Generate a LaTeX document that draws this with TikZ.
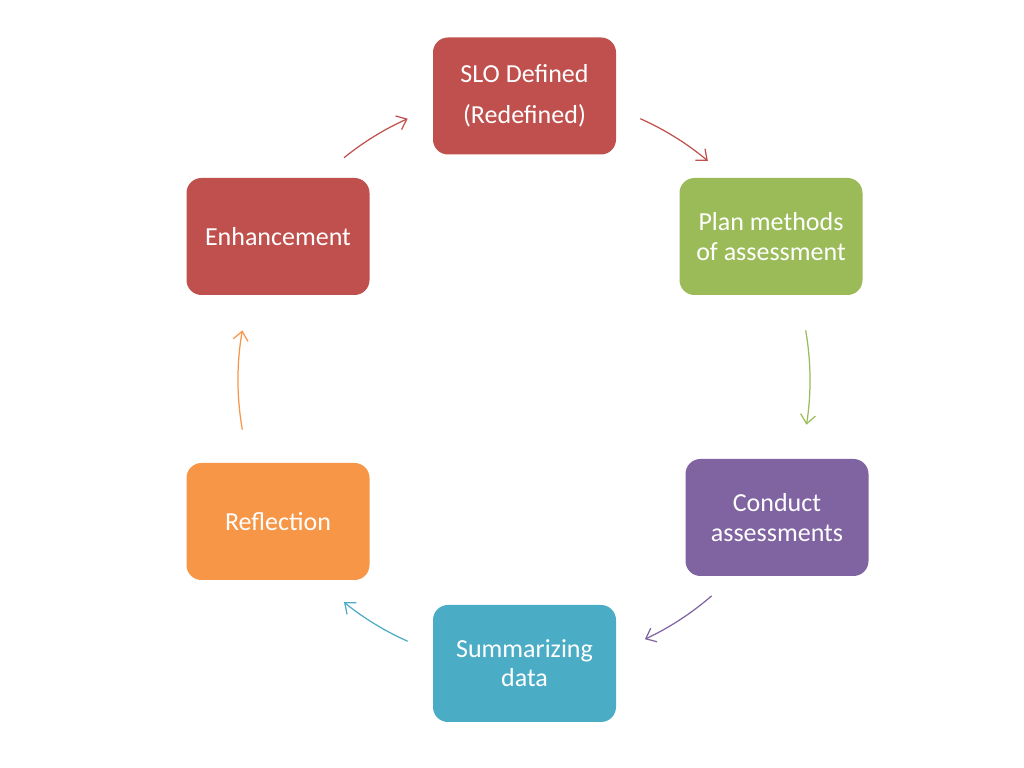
\documentclass[tikz,border=0pt]{standalone}
\usepackage{fontspec}
\setmainfont{Carlito}
\usepackage{tikz}
\usetikzlibrary{arrows.meta,positioning}
\definecolor{SloRed}{HTML}{C0504D}
\definecolor{PlanGreen}{HTML}{9BBB59}
\definecolor{ConductPurple}{HTML}{8064A2}
\definecolor{SummTeal}{HTML}{4BACC6}
\definecolor{ReflOrange}{HTML}{F79646}

\tikzset{
  stagebox/.style={rounded corners=0.15cm,minimum width=1.83cm,minimum height=1.17cm,
    text=white,align=center,inner sep=0pt,font=\fontsize{7.4}{8.3}\selectfont},
  cyclearrow/.style={line width=0.35pt,-{Straight Barb[length=0.9mm,width=1.5mm]}}
}

\begin{document}
\begin{tikzpicture}
  \useasboundingbox[fill=white] (0,0) rectangle (10.24,7.68);
  \coordinate (hub) at (5.24,3.88);
  \node[stagebox,fill=SloRed] (slo) at (5.245,6.72){SLO Defined\\[0.12cm](Redefined)};
  \node[stagebox,fill=PlanGreen] (plan) at (7.71,5.315){Plan methods\\of assessment};
  \node[stagebox,fill=ConductPurple] (cond) at (7.77,2.505){Conduct\\assessments};
  \node[stagebox,fill=SummTeal] (summ) at (5.245,1.045){Summarizing\\data};
  \node[stagebox,fill=ReflOrange] (refl) at (2.78,2.465){Reflection};
  \node[stagebox,fill=SloRed] (enh) at (2.78,5.315){Enhancement};
  % arcs of the cycle, around the hub
  \foreach \from/\to/\col in {66/50/SloRed,10/-9/PlanGreen,-49/-65/ConductPurple,
      -114/-129/SummTeal,190/170/ReflOrange,129/114/SloRed}
    \draw[cyclearrow,\col] (hub) ++(\from:2.86) arc[start angle=\from,end angle=\to,radius=2.86];
\end{tikzpicture}
\end{document}
